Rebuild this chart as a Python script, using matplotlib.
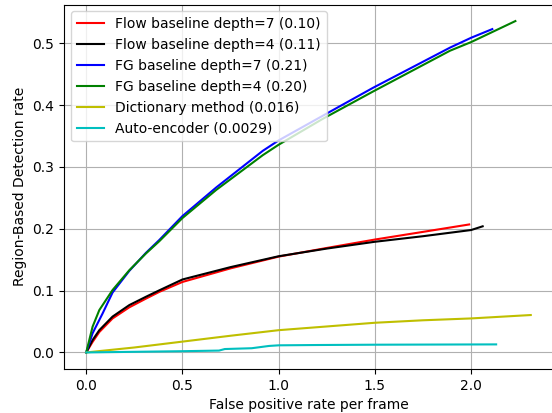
import numpy as np
import matplotlib
matplotlib.use("Agg")
import matplotlib.pyplot as plt

# values
flow7_x = [0, 0.033, 0.068, 0.137, 0.224, 0.31, 0.38, 0.5, 0.75, 1.0, 1.25, 1.5, 1.75, 1.99]
flow7_y = [0, 0.017, 0.033, 0.055, 0.073, 0.087, 0.098, 0.114, 0.136, 0.155, 0.169, 0.1826, 0.195, 0.207]
flow4_x = [0, 0.033, 0.068, 0.137, 0.224, 0.31, 0.38, 0.5, 0.75, 1.0, 1.25, 1.5, 1.75, 2.0, 2.06]
flow4_y = [0, 0.020, 0.036, 0.058, 0.0766, 0.090, 0.1005, 0.118, 0.138, 0.1556, 0.168, 0.179, 0.188, 0.198, 0.204]
fg7_x = [0, 0.033, 0.085, 0.137, 0.224, 0.31, 0.38, 0.5, 0.676, 0.917, 1.0, 1.23, 1.49, 1.89, 2.0, 2.11]
fg7_y = [0, 0.031, 0.063, 0.097, 0.132, 0.161, 0.182, 0.2206, 0.267, 0.326, 0.343, 0.383, 0.428, 0.493, 0.509, 0.523]
fg4_x = [0, 0.033, 0.068, 0.137, 0.224, 0.31, 0.38, 0.5, 0.676, 0.917, 1.0, 1.23, 1.49, 1.89, 2.0, 2.23]
fg4_y = [0, 0.0416, 0.0685, 0.101, 0.133, 0.160, 0.180, 0.2174, 0.263, 0.319, 0.336, 0.378, 0.422, 0.488, 0.502, 0.536]
dict_x = [0, 0.25, 0.5, 0.75, 1.0, 1.25, 1.5, 1.75, 2.0, 2.31]
dict_y = [0, 0.008, 0.0175, 0.027, 0.036, 0.042, 0.048, 0.052, 0.055, 0.0605]
ae_x = [0, 0.25, 0.5, 0.69, 0.72, 0.86, 0.95, 1.0, 1.2, 1.5, 2.13]
ae_y = [0, 0.001, 0.002, 0.003, 0.0055, 0.0068, 0.0105, 0.0115, 0.012, 0.0125, 0.013]

series = [
    (flow7_x, flow7_y, "r", "Flow baseline depth=7 (0.10)"),
    (flow4_x, flow4_y, "k", "Flow baseline depth=4 (0.11)"),
    (fg7_x, fg7_y, "b", "FG baseline depth=7 (0.21)"),
    (fg4_x, fg4_y, "g", "FG baseline depth=4 (0.20)"),
    (dict_x, dict_y, "y", "Dictionary method (0.016)"),
    (ae_x, ae_y, "c", "Auto-encoder (0.0029)"),
]

fig = plt.figure(figsize=(5.52, 4.13), dpi=100)
# reference is cropped so the right spine falls just outside the picture
ax = fig.add_axes([64 / 552, 44 / 413, 489 / 552, 364.5 / 413])
for x, y, c, lab in series:
    ax.plot(x, y, color=c, label=lab, linewidth=1.5)

ax.grid(True, color="#b0b0b0", linewidth=0.8)
ax.set_xlabel("False positive rate per frame")
ax.set_ylabel("Region-Based Detection rate")
ax.legend(loc="upper left")
fig.savefig("out.png", dpi=100)
